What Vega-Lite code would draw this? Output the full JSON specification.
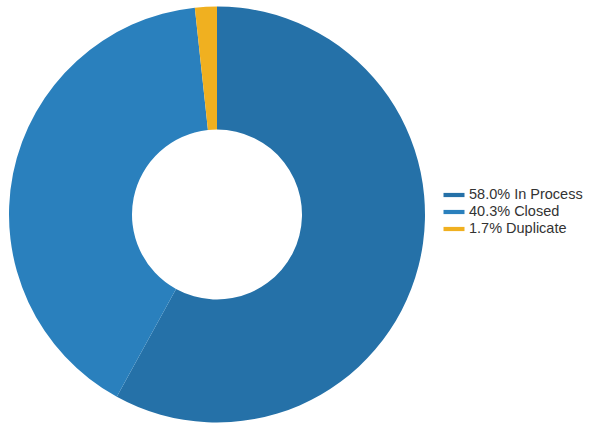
{
  "$schema": "https://vega.github.io/schema/vega-lite/v6.json",
  "width": 434,
  "height": 429,
  "autosize": "none",
  "padding": {"left": 0, "top": 0, "right": 157, "bottom": 0},
  "background": "white",
  "view": {"stroke": null},
  "data": {"values": [
    {"status": "In Process", "pct": 58.0, "label": "58.0% In Process"},
    {"status": "Closed", "pct": 40.3, "label": "40.3% Closed"},
    {"status": "Duplicate", "pct": 1.7, "label": "1.7% Duplicate"}
  ]},
  "mark": {"type": "arc", "innerRadius": 85, "outerRadius": 208},
  "encoding": {
    "theta": {"field": "pct", "type": "quantitative", "stack": true},
    "order": {"field": "pct", "type": "quantitative", "sort": "descending"},
    "color": {
      "field": "label",
      "type": "nominal",
      "sort": ["58.0% In Process", "40.3% Closed", "1.7% Duplicate"],
      "scale": {
        "domain": ["58.0% In Process", "40.3% Closed", "1.7% Duplicate"],
        "range": ["#2571a8", "#2a80bd", "#f0b020"]
      },
      "legend": {
        "title": null,
        "orient": "none",
        "legendX": 446,
        "legendY": 187,
        "symbolType": "M-1.5,-0.3H1.5V0.3H-1.5Z",
        "symbolSize": 196,
        "labelFont": "Liberation Sans",
        "labelFontSize": 14.5,
        "labelColor": "#333333",
        "labelOffset": 7,
        "rowPadding": 2
      }
    }
  }
}
